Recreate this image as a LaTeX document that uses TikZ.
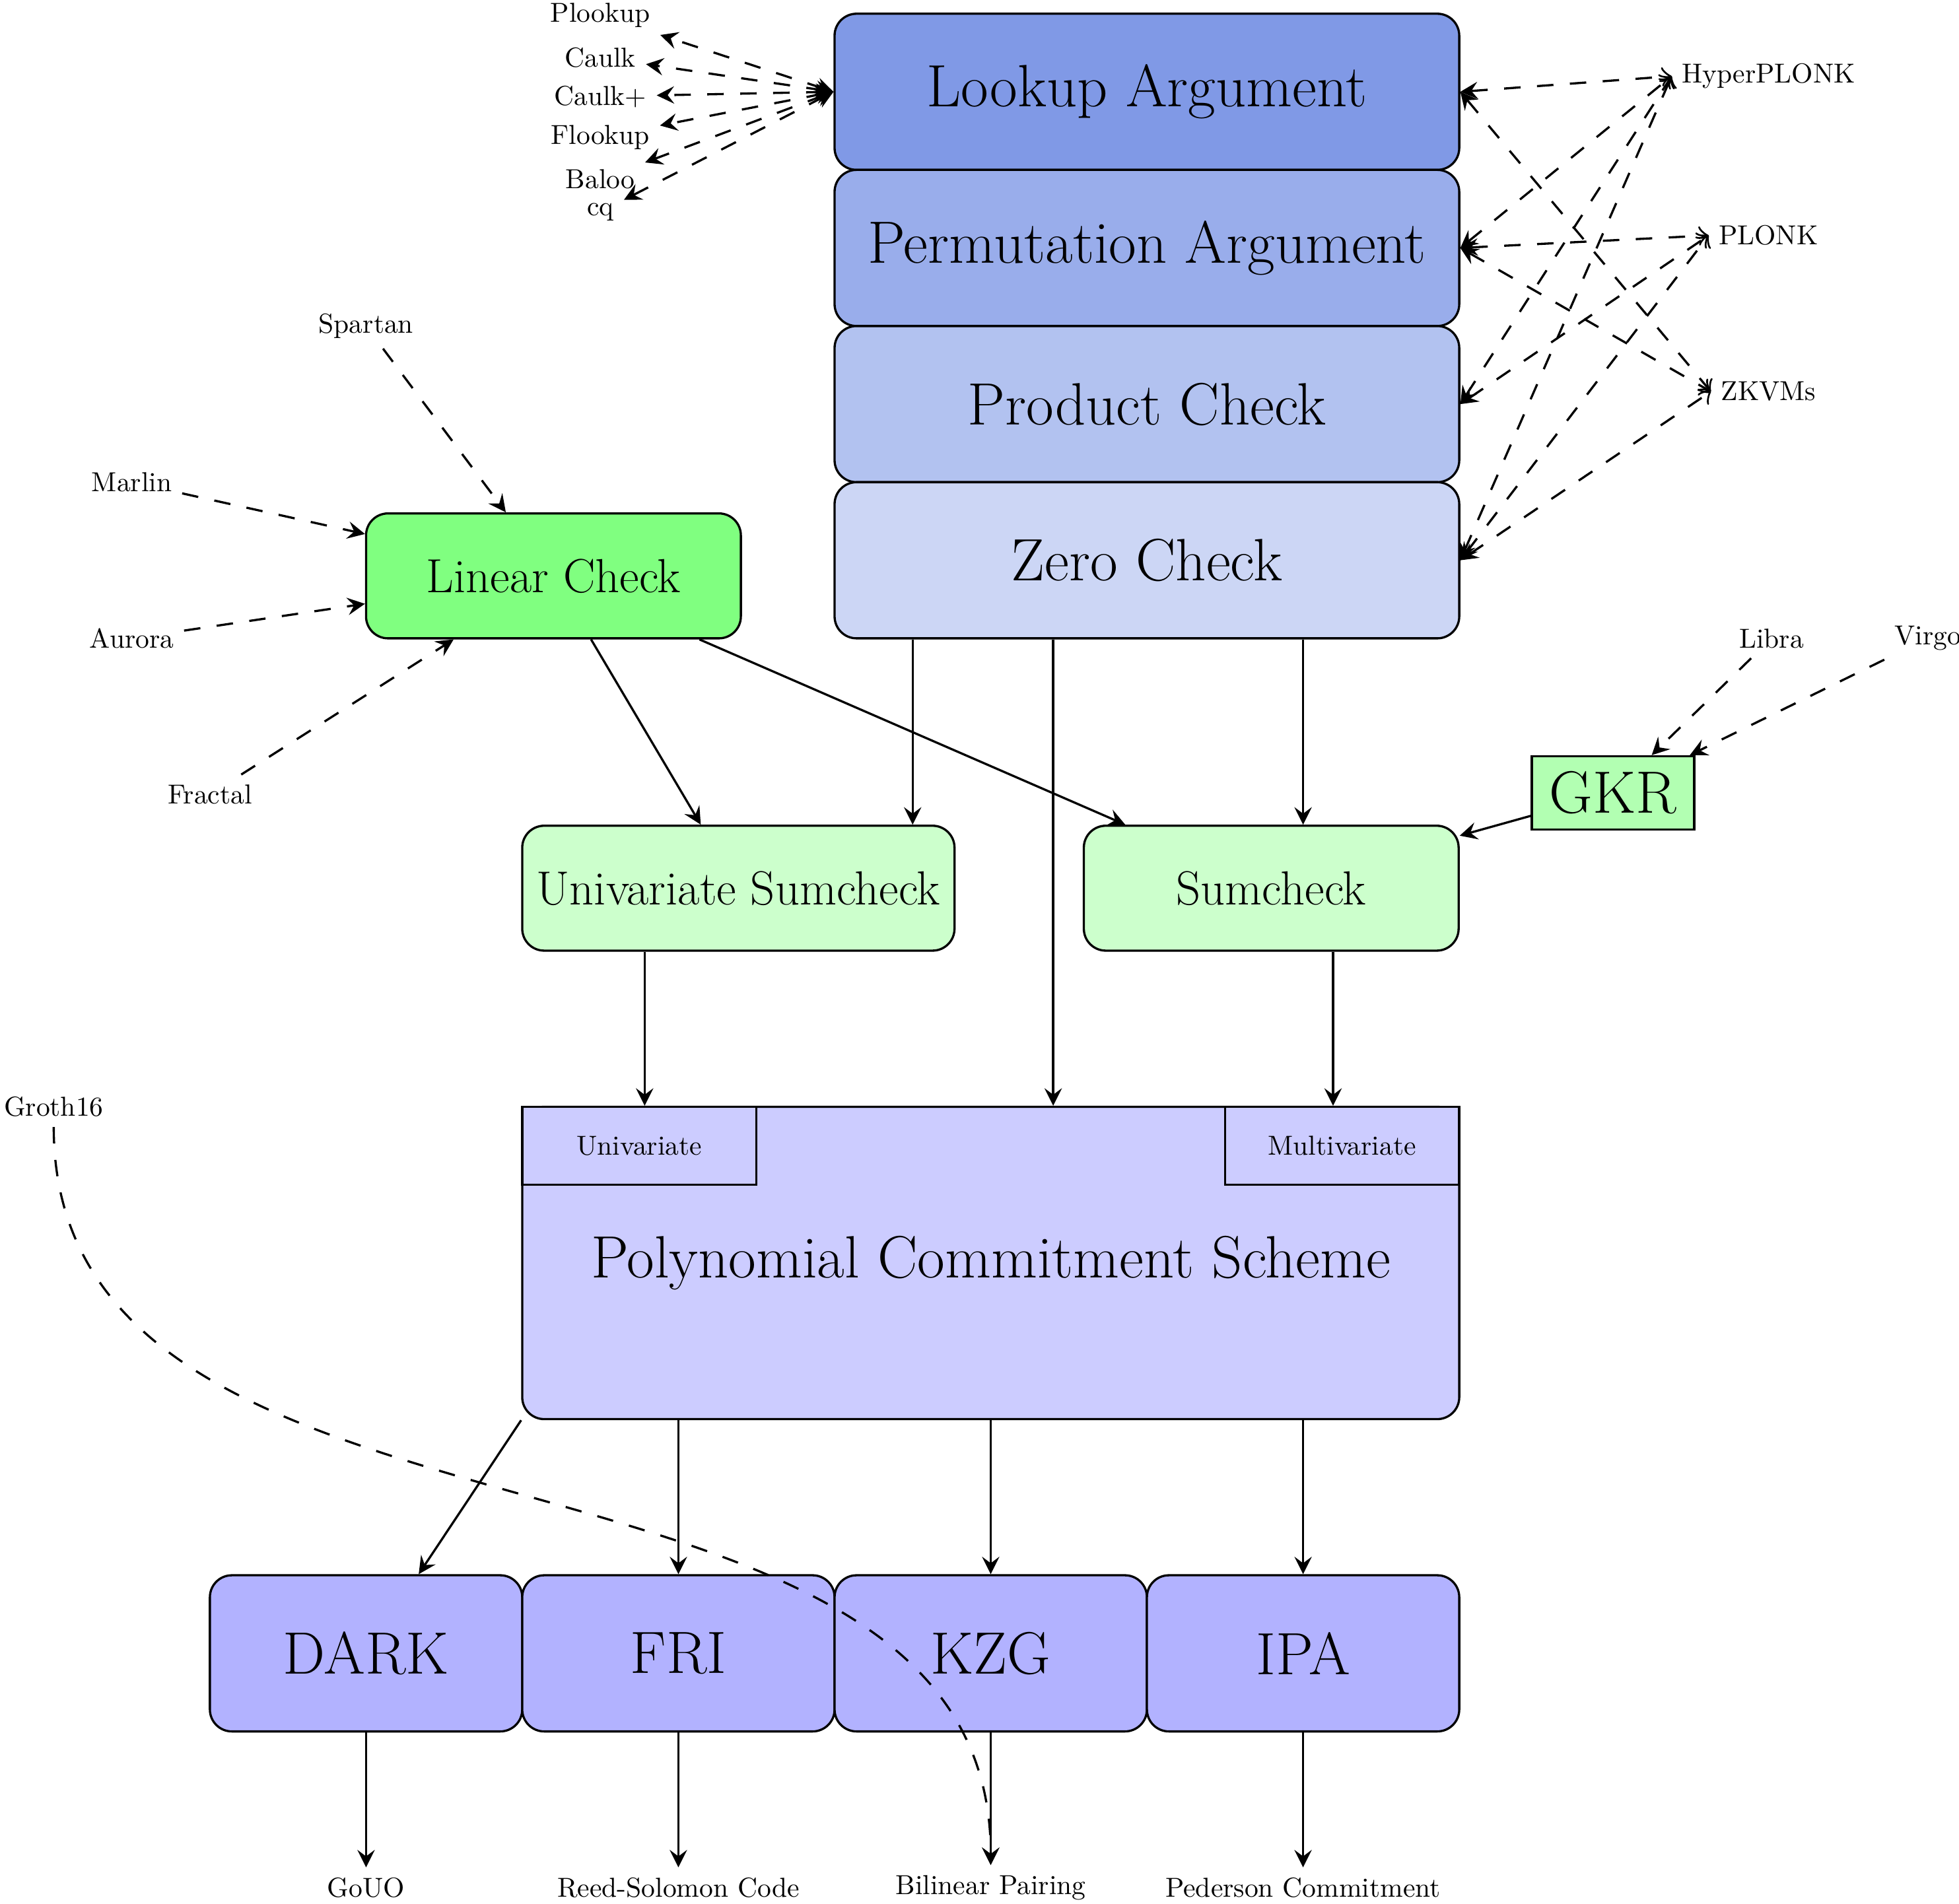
\documentclass[tikz,border=0pt]{standalone}
\usepackage{graphicx}
\usetikzlibrary{arrows,arrows.meta,calc}
\definecolor{stackbase}{RGB}{0,51,204}
\newcommand{\txhuge}[1]{\scalebox{0.525}{\huge #1}}
\newcommand{\txLarge}[1]{\scalebox{0.505}{\LARGE #1}}
\newcommand{\txnorm}[1]{\scalebox{0.5}{\normalsize #1}}
\begin{document}
\begin{tikzpicture}[x=1cm,y=1cm,
  box/.style={draw, rounded corners, inner sep=0pt},
  stackbox/.style={box, minimum width=4cm, minimum height=1cm},
  pcbox/.style={box, fill=blue!30, minimum width=2cm, minimum height=1cm},
  subbox/.style={draw, fill=blue!20, minimum width=1.5cm, minimum height=0.5cm, inner sep=0pt},
  lab/.style={inner sep=1.67pt},
  arr/.style={-stealth},
  darr/.style={dashed,-stealth},
  fanl/.style={dashed,stealth-stealth},
  fanr/.style={dashed,stealth-to},
]
\useasboundingbox (-0.344,-1.604) rectangle (12.2,10.588);

% main stack
\node[stackbox, fill=stackbase!50] (lookup) at (7,10) {\txhuge{Lookup Argument}};
\node[stackbox, fill=stackbase!40] (perm) at (7,9) {\txhuge{Permutation Argument}};
\node[stackbox, fill=stackbase!30] (product) at (7,8) {\txhuge{Product Check}};
\node[stackbox, fill=stackbase!20] (zero) at (7,7) {\txhuge{Zero Check}};

% green nodes
\node[box, fill=green!50, minimum width=2.4cm, minimum height=0.8cm] (linear) at (3.2,6.9) {\txLarge{Linear Check}};
\node[box, fill=green!20, minimum width=2.768cm, minimum height=0.8cm] (usum) at (4.384,4.9) {\txLarge{Univariate Sumcheck}};
\node[box, fill=green!20, minimum width=2.4cm, minimum height=0.8cm] (sumcheck) at (7.796,4.9) {\txLarge{Sumcheck}};
\node[draw, fill=green!30, minimum width=1.04cm, minimum height=0.47cm, inner sep=0pt] (gkr) at (9.984,5.51) {\txhuge{GKR}};

% PCS
\node[box, fill=blue!20, minimum width=6cm, minimum height=2cm] (pcs) at (6,2.5) {\txhuge{Polynomial Commitment Scheme}};
\node[subbox, anchor=north west] (univ) at (pcs.north west) {\txnorm{Univariate}};
\node[subbox, anchor=north east] (multiv) at (pcs.north east) {\txnorm{Multivariate}};

% bottom schemes
\node[pcbox] (dark) at (2,0) {\txhuge{DARK}};
\node[pcbox] (fri) at (4,0) {\txhuge{FRI}};
\node[pcbox] (kzg) at (6,0) {\txhuge{KZG}};
\node[pcbox] (ipa) at (8,0) {\txhuge{IPA}};

% labels
\node[lab] (plookup) at (3.5,10.49) {\txnorm{Plookup}};
\node[lab] (caulk) at (3.5,10.22) {\txnorm{Caulk}};
\node[lab] (caulkp) at (3.5,9.97) {\txnorm{Caulk+}};
\node[lab] (flookup) at (3.5,9.71) {\txnorm{Flookup}};
\node[lab] (baloo) at (3.5,9.44) {\txnorm{Baloo}};
\node[lab] (cq) at (3.5,9.23) {\txnorm{cq}};

\node[lab] (hyperplonk) at (10.98,10.1) {\txnorm{HyperPLONK}};
\node[lab] (plonk) at (10.98,9.08) {\txnorm{PLONK}};
\node[lab] (zkvms) at (10.98,8.08) {\txnorm{ZKVMs}};

\node[lab] (spartan) at (2,8.5) {\txnorm{Spartan}};
\node[lab] (marlin) at (0.5,7.5) {\txnorm{Marlin}};
\node[lab] (aurora) at (0.5,6.5) {\txnorm{Aurora}};
\node[lab] (fractal) at (1,5.5) {\txnorm{Fractal}};

\node[lab] (libra) at (11,6.5) {\txnorm{Libra}};
\node[lab] (virgo) at (12,6.5) {\txnorm{Virgo}};

\node[lab] (groth) at (0,3.5) {\txnorm{Groth16}};

\node[lab] (gouo) at (2,-1.5) {\txnorm{GoUO}};
\node[lab] (rs) at (4,-1.5) {\txnorm{Reed-Solomon Code}};
\node[lab] (bp) at (6,-1.5) {\txnorm{Bilinear Pairing}};
\node[lab] (ped) at (8,-1.5) {\txnorm{Pederson Commitment}};

% solid connectors
\coordinate (z1) at ([xshift=-1.5cm]zero.south);
\coordinate (z2) at ([xshift=-0.6cm]zero.south);
\coordinate (z3) at ([xshift=1cm]zero.south);
\draw[arr] (z1) -- (z1 |- usum.north);
\draw[arr] (z2) -- (z2 |- pcs.north);
\draw[arr] (z3) -- (z3 |- sumcheck.north);
\draw[arr] (linear) -- (usum);
\draw[arr] (linear) -- (sumcheck);
\draw[arr] (gkr) -- (sumcheck);
\coordinate (u1) at ([xshift=-0.6cm]usum.south);
\coordinate (s1) at ([xshift=0.396cm]sumcheck.south);
\draw[arr] (u1) -- (u1 |- pcs.north);
\draw[arr] (s1) -- (s1 |- pcs.north);

\draw[arr] (pcs.south west) -- (dark);
\draw[arr] (fri.north |- pcs.south) -- (fri.north);
\draw[arr] (pcs.south) -- (kzg.north);
\draw[arr] (ipa.north |- pcs.south) -- (ipa.north);

\draw[arr] (dark.south) -- (gouo.north);
\draw[arr] (fri.south) -- (rs.north);
\draw[arr] (kzg.south) -- (bp.north);
\draw[arr] (ipa.south) -- (ped.north);

% lookup fan
\foreach \t in {plookup,caulk,caulkp,flookup,baloo,cq}
  \draw[fanl] (lookup.west) -- (\t);

% right fan
\draw[fanr] (lookup.east) -- (hyperplonk.west);
\draw[fanr] (perm.east) -- (hyperplonk.west);
\draw[fanr] (product.east) -- (hyperplonk.west);
\draw[fanr] (zero.east) -- (hyperplonk.west);
\draw[fanr] (perm.east) -- (plonk.west);
\draw[fanr] (product.east) -- (plonk.west);
\draw[fanr] (zero.east) -- (plonk.west);
\draw[fanr] (lookup.east) -- (zkvms.west);
\draw[fanr] (perm.east) -- (zkvms.west);
\draw[fanr] (zero.east) -- (zkvms.west);

% linear check inputs
\draw[darr] (spartan) -- (linear);
\draw[darr] (marlin) -- (linear);
\draw[darr] (aurora) -- (linear);
\draw[darr] (fractal) -- (linear);

% GKR inputs
\draw[darr] (libra) -- (gkr);
\draw[darr] (virgo) -- (gkr);

% Groth16
\draw[darr] (groth) to[out=-90,in=90] (bp);
\end{tikzpicture}
\end{document}
